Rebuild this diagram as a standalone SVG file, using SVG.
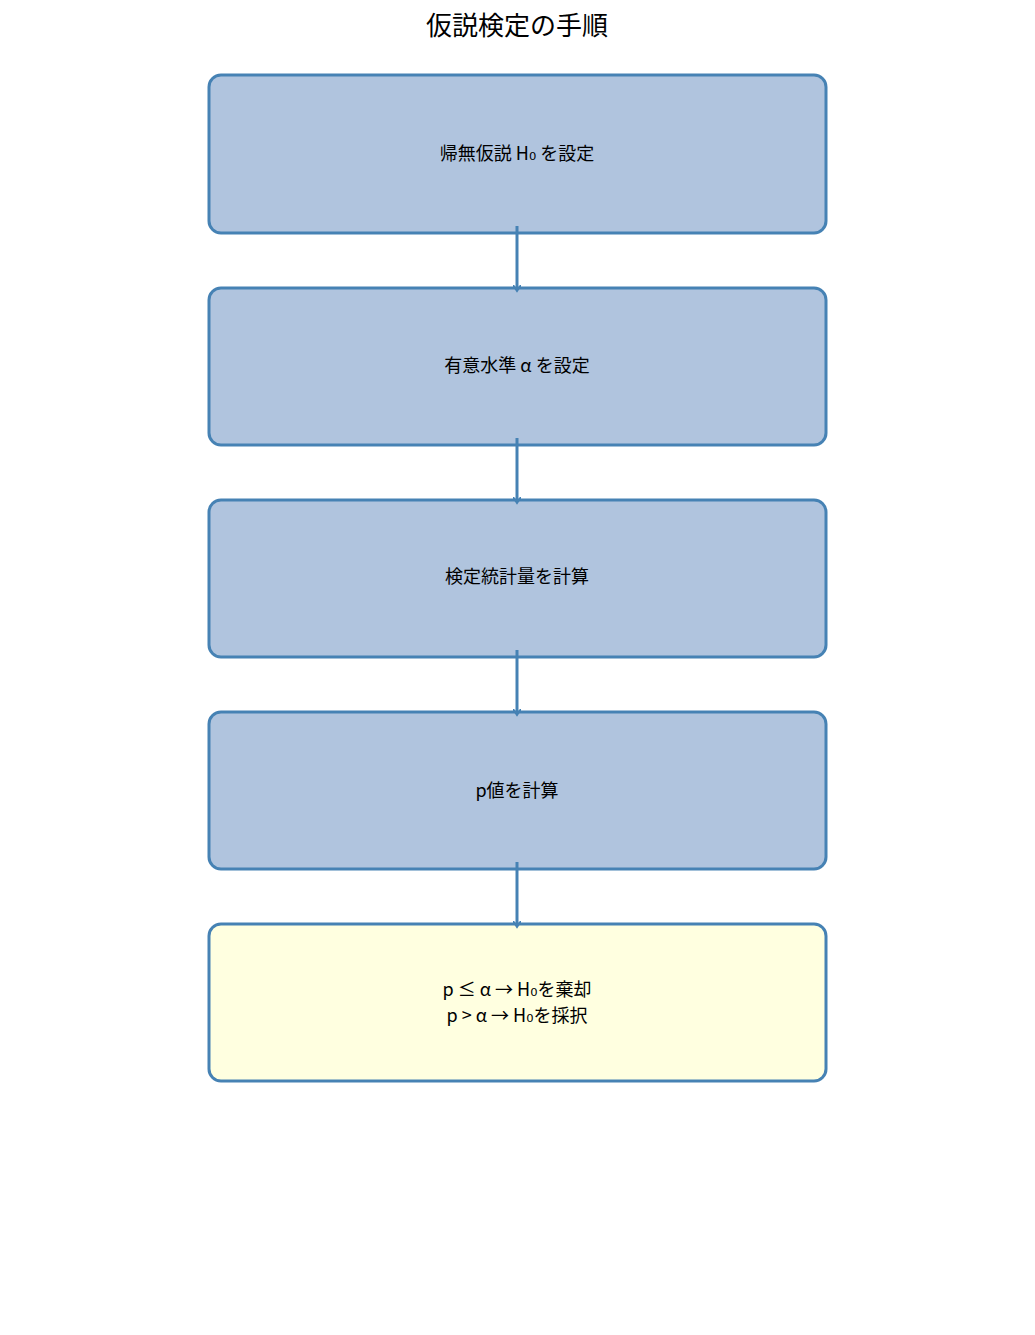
<svg xmlns="http://www.w3.org/2000/svg" width="1035" height="1335" viewBox="0 0 1035 1335">
<style>
.box{stroke:#4682B4;stroke-width:3}
.b{fill:#B0C4DE}
.y{fill:#FFFFE0}
text{font-family:"Noto Sans CJK JP","DejaVu Sans",sans-serif;font-size:18px;text-anchor:middle;fill:#000}
.t{font-size:26px}
.c{stroke:#4682B4;stroke-width:3;fill:none}
</style>
<defs><marker id="a" markerWidth="8" markerHeight="8" refX="5" refY="4" orient="auto" markerUnits="userSpaceOnUse"><path d="M0,0 L6,4 L0,8" fill="none" stroke="#4682B4" stroke-width="2"/></marker></defs>
<rect width="1035" height="1335" fill="#fff"/>
<text class="t" x="517" y="35">仮説検定の手順</text>
<g id="n1"><rect class="box b" x="209" y="75" width="617" height="158" rx="12"/><text x="517" y="160">帰無仮説 H₀ を設定</text></g>
<g id="n2"><rect class="box b" x="209" y="288" width="617" height="157" rx="12"/><text x="517" y="372">有意水準 α を設定</text></g>
<g id="n3"><rect class="box b" x="209" y="500" width="617" height="157" rx="12"/><text x="517" y="583">検定統計量を計算</text></g>
<g id="n4"><rect class="box b" x="209" y="712" width="617" height="157" rx="12"/><text x="517" y="797">p値を計算</text></g>
<g id="n5"><rect class="box y" x="209" y="924" width="617" height="157" rx="12"/><text x="517" y="996">p ≤ α → H₀を棄却</text><text x="517" y="1022">p &gt; α → H₀を採択</text></g>
<g id="connectors">
<path class="c" d="M517,226 V290" marker-end="url(#a)"/>
<path class="c" d="M517,438 V502" marker-end="url(#a)"/>
<path class="c" d="M517,650 V714" marker-end="url(#a)"/>
<path class="c" d="M517,862 V926" marker-end="url(#a)"/>
</g>
</svg>
